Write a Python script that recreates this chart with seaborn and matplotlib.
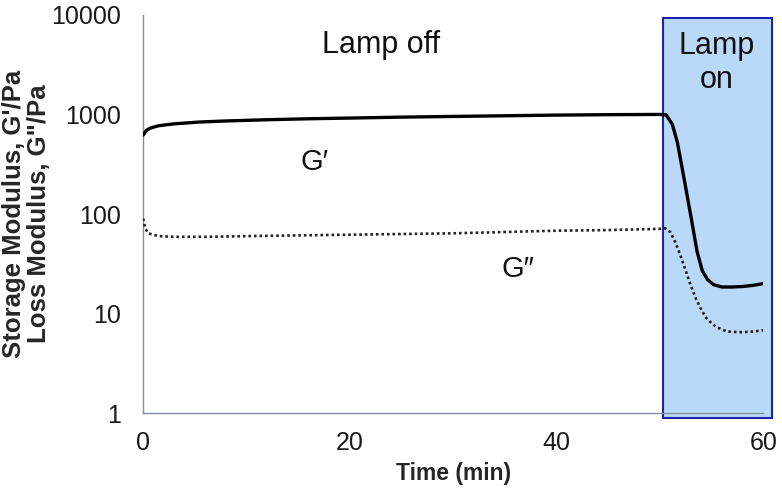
import matplotlib
matplotlib.use("Agg")
import matplotlib.pyplot as plt
import seaborn as sns
import pandas as pd
from matplotlib.patches import Rectangle

# G' (storage modulus) readings
t_storage = [0, 0.3, 0.7, 1.5, 3, 5.5, 8, 12, 16, 20, 25, 30, 35, 40, 45, 50,
             50.6, 51.2, 51.7, 52.4, 53.0, 53.6, 54.1, 54.6, 55.2, 56, 57, 58, 59, 60]
g_storage = [620, 690, 730, 770, 805, 840, 860, 885, 905, 920, 940, 955, 970, 985, 995, 1000,
             990, 800, 520, 210, 95, 42, 27, 22, 19.5, 18.5, 18.5, 18.7, 19.2, 20]

# G'' (loss modulus) readings
t_loss = [0, 0.2, 0.5, 1.5, 3, 6, 10, 15, 20, 25, 30, 35, 40, 45, 50,
          50.5, 51.0, 51.5, 52.0, 52.5, 53.0, 53.5, 54.0, 54.5, 55.0, 55.5, 56.5, 58, 59, 60]
g_loss = [90, 72, 64, 60, 59, 59, 60, 61, 62, 63, 64, 66, 68, 69, 71,
          72, 66, 52, 38, 27, 19, 14, 11, 9, 8, 7.3, 6.6, 6.5, 6.6, 6.8]

x_ticks = [0, 20, 40, 60]
y_ticks = [1, 10, 100, 1000, 10000]
y_ticklabels = ["1", "10", "100", "1000", "10000"]

df_storage = pd.DataFrame({"time": t_storage, "modulus": g_storage})
df_loss = pd.DataFrame({"time": t_loss, "modulus": g_loss})

sns.set_style("white")
plt.rcParams["font.family"] = ["Liberation Sans", "DejaVu Sans"]

fig = plt.figure(figsize=(7.82, 4.96), dpi=100)
ax = fig.add_axes([0.183, 0.167, 0.793, 0.803])

# lamp-on shaded region
ax.add_patch(Rectangle((50.3, 0.89), 10.5, 9330 - 0.89, facecolor="#bad9f8",
                       edgecolor="#1c22b0", linewidth=1.5, clip_on=False, zorder=0))

sns.lineplot(data=df_storage, x="time", y="modulus", ax=ax, color="black",
             linewidth=2.4, zorder=3)
sns.lineplot(data=df_loss, x="time", y="modulus", ax=ax, color="#222222",
             linewidth=1.9, linestyle=(0, (1, 1.1)), zorder=3)

ax.set_yscale("log")
ax.set_xlim(0, 60)
ax.set_ylim(1, 10000)
ax.set_xticks(x_ticks)
ax.set_yticks(y_ticks)
ax.set_yticklabels(y_ticklabels)
ax.minorticks_off()
ax.tick_params(axis="both", length=0, labelsize=18, colors="#1a1a1a")
ax.tick_params(axis="x", pad=13)
ax.tick_params(axis="y", pad=16)

for side in ["top", "right"]:
    ax.spines[side].set_visible(False)
for side in ["left", "bottom"]:
    ax.spines[side].set_color("#7d929b")
    ax.spines[side].set_linewidth(1.0)

ax.set_xlabel("Time (min)", fontsize=16.5, fontweight="bold", labelpad=5)
ax.set_ylabel("Storage Modulus, G'/Pa\nLoss Modulus, G\"/Pa", fontsize=18.5,
              fontweight="bold", labelpad=0, linespacing=1.05)

ax.text(23, 5000, "Lamp off", fontsize=22, ha="center", va="center", color="#111111")
ax.text(55.5, 3300, "Lamp\non", fontsize=22, ha="center", va="center",
        color="#111111", linespacing=1.15)
ax.text(16.6, 330, "G′", fontsize=21, ha="center", va="center", color="#111111")
ax.text(36.3, 28, "G″", fontsize=21, ha="center", va="center", color="#111111")

plt.savefig("out.png", dpi=100)
